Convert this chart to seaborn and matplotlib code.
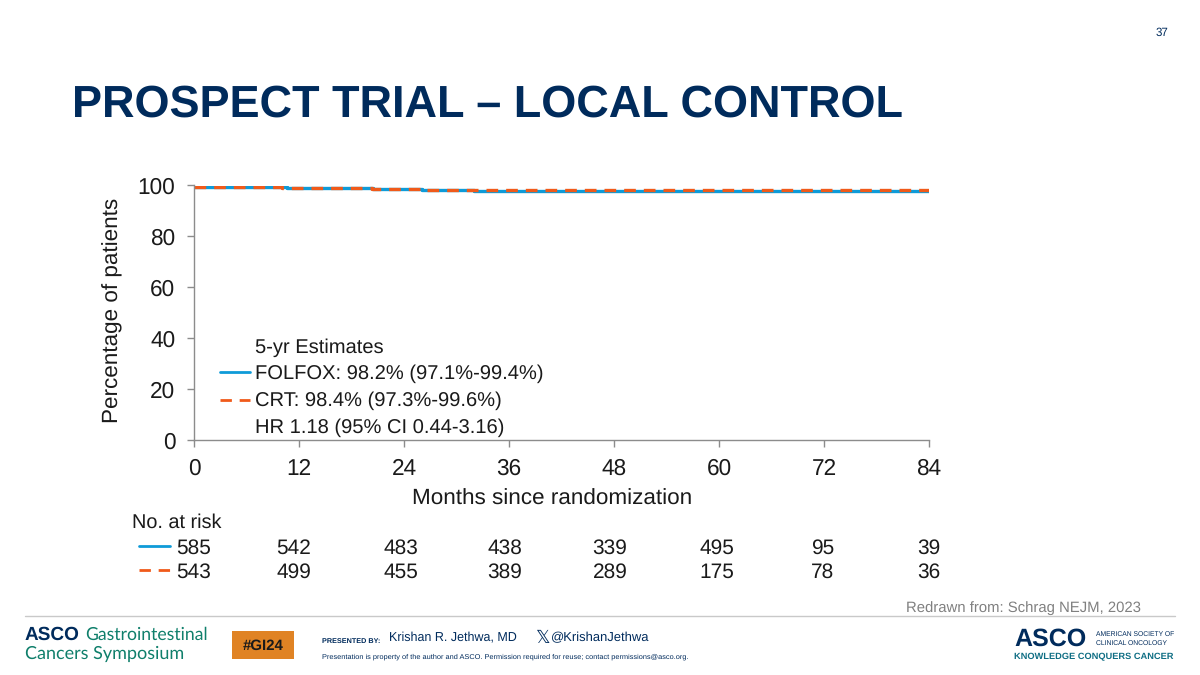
import matplotlib
matplotlib.use("Agg")
import matplotlib.pyplot as plt
from matplotlib.lines import Line2D
from matplotlib.patches import Rectangle
import pandas as pd
import seaborn as sns

# values
folfox_months = [0, 10.6, 20.5, 26, 32, 84]
folfox_pct = [99.5, 99.1, 98.5, 98.2, 97.85, 97.85]
crt_months = [0, 10, 20.3, 26, 32.3, 84]
crt_pct = [99.6, 99.2, 98.6, 98.4, 98.05, 98.05]
month_ticks = [0, 12, 24, 36, 48, 60, 72, 84]
pct_ticks = [0, 20, 40, 60, 80, 100]
folfox_risk = [585, 542, 483, 438, 339, 495, 95, 39]
crt_risk = [543, 499, 455, 389, 289, 175, 78, 36]

BLUE = "#0E9BD8"
ORANGE = "#F05A1A"
NAVY = "#002B5C"
TEAL = "#0F7F6B"

sns.set_theme(style="white")
plt.rcParams["font.family"] = ["Liberation Sans", "DejaVu Sans"]
plt.rcParams["text.hinting"] = "no_hinting"

df = pd.concat([
    pd.DataFrame({"month": folfox_months, "pct": folfox_pct, "arm": "FOLFOX"}),
    pd.DataFrame({"month": crt_months, "pct": crt_pct, "arm": "CRT"}),
])

fig = plt.figure(figsize=(12, 6.75), dpi=100, facecolor="white")


def fx(x):
    return x / 1200


def fy(y):
    return 1 - y / 675


def label(x, y, s, size, color="#1a1a1a", ha="left", **kw):
    return fig.text(fx(x), fy(y), s, fontsize=size, color=color, ha=ha, va="center", **kw)


ax = fig.add_axes([fx(194), fy(440), fx(929 - 194), (440 - 185.5) / 675])
sns.lineplot(data=df[df.arm == "FOLFOX"], x="month", y="pct", ax=ax, color=BLUE,
             linewidth=2.4, drawstyle="steps-post", errorbar=None)
sns.lineplot(data=df[df.arm == "CRT"], x="month", y="pct", ax=ax, color=ORANGE,
             linewidth=2.4, drawstyle="steps-post", errorbar=None)
ax.lines[1].set_linestyle((0, (3.5, 2.4)))
ax.set_xlim(0, 84)
ax.set_ylim(0, 100)
ax.set_xticks(month_ticks)
ax.set_yticks(pct_ticks)
ax.set_xlabel("Months since randomization", fontsize=16.2, color="#1a1a1a")
ax.set_ylabel("Percentage of patients", fontsize=16.2, color="#1a1a1a")
ax.xaxis.set_label_coords((552 - 194) / 735, (440 - 499) / 254.5)
ax.xaxis.label.set_va("center")
ax.yaxis.set_label_coords((113 - 194) / 735, (440 - 310) / 254.5)
ax.yaxis.label.set_va("center")
ax.tick_params(axis="both", labelsize=16.3, length=5, width=1, color="#8c8c8c",
               labelcolor="#1a1a1a", bottom=True, left=True)
ax.tick_params(axis="x", pad=8)
ax.tick_params(axis="y", pad=8.5)
sns.despine(ax=ax)
for side in ("left", "bottom"):
    ax.spines[side].set_color("#8c8c8c")
    ax.spines[side].set_linewidth(1)
ax.patch.set_alpha(0)

# in-plot estimates block
label(255, 348, "5-yr Estimates", 14.5)
label(255, 374, "FOLFOX: 98.2% (97.1%-99.4%)", 14.5)
label(255, 401, "CRT: 98.4% (97.3%-99.6%)", 14.5)
label(255, 428, "HR 1.18 (95% CI 0.44-3.16)", 14.5)


def key(x0, x1, y, color, dashed=False):
    line = Line2D([fx(x0), fx(x1)], [fy(y), fy(y)], transform=fig.transFigure,
                  color=color, linewidth=2)
    if dashed:
        line.set_linestyle((0, (4.1, 2.8)))
    fig.add_artist(line)


key(220, 250, 372, BLUE)
key(220, 250, 399.5, ORANGE, dashed=True)

# risk table
label(132, 523, "No. at risk", 14.3)
key(139, 170, 546, BLUE)
key(139, 170, 570, ORANGE, dashed=True)
offsets = [0, -5, -3, -4, -4, -2, -1, 0]
for m, a, b, off in zip(month_ticks, folfox_risk, crt_risk, offsets):
    x_px = ax.transData.transform((m, 0))[0] + off
    label(x_px, 548, str(a), 15, ha="center")
    label(x_px, 572, str(b), 15, ha="center")

# slide furniture
label(1162, 33, "37", 8.3, color=NAVY, ha="center")
label(72, 105, "PROSPECT TRIAL – LOCAL CONTROL", 32.4, color=NAVY, fontweight="bold")
label(906, 608, "Redrawn from: Schrag NEJM, 2023", 10.75, color="#808080")
fig.add_artist(Line2D([fx(25), fx(1175)], [fy(615.5), fy(615.5)], transform=fig.transFigure,
                      color="#c9c9c9", linewidth=1))

# footer left wordmark
label(25, 635, "ASCO", 13.7, color=NAVY, fontweight="bold")
label(85, 635, "Gastrointestinal", 12.7, color=TEAL, family=["Lato", "DejaVu Sans"])
label(25, 654, "Cancers Symposium", 13, color=TEAL, family=["Lato", "DejaVu Sans"])

fig.add_artist(Rectangle((fx(232), fy(659)), 62 / 1200, 28 / 675, transform=fig.transFigure,
                         facecolor="#E08324", edgecolor="none"))
label(263.5, 645.5, "#GI24", 10.8, color="#1a1a1a", ha="center", fontweight="bold")

label(322, 641.5, "PRESENTED BY:", 5.2, color=NAVY, fontweight="bold")
label(389, 637.5, "Krishan R. Jethwa, MD", 9, color=NAVY)
label(535, 638, "\U0001D54F", 13, color=NAVY, family=["DejaVu Sans"])
label(551, 638, "@KrishanJethwa", 9.4, color=NAVY)
label(322, 657, "Presentation is property of the author and ASCO. Permission required for reuse; contact permissions@asco.org.",
      5.35, color=NAVY)

# footer right wordmark
label(1014, 639, "ASCO", 18, color=NAVY, fontweight="bold")
label(1096, 634, "AMERICAN SOCIETY OF", 4.9, color=NAVY)
label(1096, 643, "CLINICAL ONCOLOGY", 4.9, color=NAVY)
label(1014, 657, "KNOWLEDGE CONQUERS CANCER", 6.7, color="#0F6E84", fontweight="bold")

fig.savefig("out.png", dpi=100, facecolor="white")
